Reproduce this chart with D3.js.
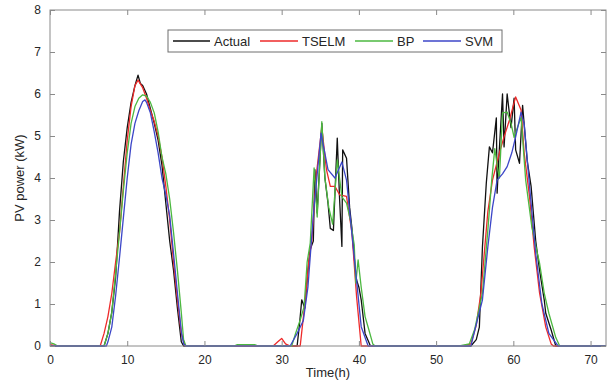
<!DOCTYPE html>
<html>
<head>
<meta charset="utf-8">
<script src="https://cdn.jsdelivr.net/npm/d3@7"></script>
<style>
    body { margin: 0; background: #fff; }
    text { font-family: "Liberation Sans", Arial, sans-serif; fill: #262626; }
</style>
</head>
<body>
<div id="chart"></div>
<script>
// series values, as [time (h), power (kW)]
const actual = [
    [0, 0], [7, 0], [7.5, 0.3], [8, 0.8], [8.5, 1.64], [9, 3.2], [9.5, 4.4], [10, 5.2], [10.5, 5.8],
    [11, 6.2], [11.4, 6.45], [11.7, 6.25], [12, 6.2], [12.5, 6.0], [13, 5.65], [13.5, 5.3],
    [14, 4.9], [14.5, 4.3], [15, 3.4], [15.5, 2.5], [16, 1.8], [16.5, 0.9], [17, 0.1], [17.3, 0],
    [32, 0], [32.3, 0.5], [32.6, 1.1], [33, 0.9], [33.4, 1.8], [33.7, 2.3], [34.1, 2.5], [34.3, 4.2],
    [34.6, 3.17], [35.2, 5.3], [35.6, 4.0], [36, 3.4], [36.3, 2.8], [36.7, 2.75], [37.2, 4.95],
    [37.5, 3.5], [37.8, 2.37], [37.9, 4.67], [38.4, 4.47], [38.8, 3.3], [39.1, 2.8], [39.5, 1.9],
    [39.7, 1.57], [40, 1.4], [40.3, 1.1], [40.8, 0.3], [41.5, 0],
    [54.5, 0], [55.2, 0.15], [55.6, 0.45], [56, 2.36], [56.5, 3.88], [56.9, 4.74], [57.3, 4.6],
    [57.8, 5.43], [57.9, 3.64], [58.1, 4.4], [58.6, 6.0], [58.8, 4.74], [59.2, 6.0], [59.7, 5.2],
    [60.1, 5.9], [60.3, 4.67], [60.8, 4.35], [61.2, 5.73], [61.8, 4.4], [62.3, 3.8], [62.9, 2.5],
    [63.4, 1.8], [64, 1.1], [64.2, 0.78], [64.9, 0.38], [65.5, 0], [72, 0]
];
const tselm = [
    [0, 0.03], [1, 0], [6.5, 0], [7, 0.3], [7.5, 0.7], [8, 1.25], [8.5, 2.0], [9, 2.7], [9.5, 3.8],
    [10, 4.9], [10.5, 5.7], [11, 6.2], [11.4, 6.33], [12, 6.15], [12.5, 5.9], [13, 5.6], [13.5, 5.35],
    [14, 5.0], [14.5, 4.5], [15, 3.8], [15.5, 3.0], [16, 2.0], [16.5, 1.1], [17, 0.3], [17.5, 0],
    [28.9, 0], [29.5, 0.1], [30, 0.18], [30.5, 0.05], [31.1, 0], [32.4, 0], [33.1, 1.17], [33.5, 2.0],
    [33.9, 2.5], [34.5, 4.1], [35.2, 5.2], [35.8, 4.2], [36.3, 3.8], [36.9, 3.8], [37.5, 3.6],
    [38.4, 3.56], [39.1, 2.7], [39.7, 1.18], [40.3, 0],
    [53.5, 0], [54.5, 0.05], [55.2, 0.5], [55.8, 1.26], [56.7, 3.2], [57.3, 3.95], [58.2, 4.6],
    [58.8, 4.98], [59.5, 5.38], [60.3, 5.93], [61, 5.62], [61.4, 4.6], [62.1, 3.55], [62.7, 2.36],
    [63.4, 1.26], [64.2, 0.45], [64.9, 0.05], [65.2, 0], [72, 0]
];
const bp = [
    [0, 0.08], [0.5, 0.05], [1, 0], [7, 0], [7.5, 0.3], [8, 0.8], [8.5, 1.74], [9, 2.7], [9.5, 3.7],
    [10, 4.6], [10.5, 5.3], [11, 5.7], [11.5, 5.9], [12, 5.98], [12.5, 5.95], [13, 5.8], [13.5, 5.55],
    [14, 5.1], [14.5, 4.5], [15, 4.1], [15.5, 3.5], [16, 2.7], [16.5, 1.8], [17, 0.8], [17.3, 0.15],
    [17.6, 0],
    [23.8, 0], [24.2, 0.03], [26.5, 0.03], [27, 0],
    [31.3, 0], [31.8, 0.3], [32.4, 0.62], [32.9, 0.93], [33.3, 2.0], [33.7, 2.45], [34.2, 4.24],
    [34.6, 3.07], [35.2, 5.34], [35.6, 4.0], [36.1, 3.3], [36.6, 2.9], [37.2, 4.43], [37.8, 3.55],
    [38.4, 3.4], [38.9, 3.0], [39.4, 2.4], [39.6, 1.5], [39.9, 2.05], [40.3, 1.4], [40.8, 0.7],
    [41.3, 0.38], [41.8, 0.05], [42.1, 0],
    [53, 0], [54.3, 0.05], [55, 0.4], [56, 1.26], [56.7, 2.76], [57.2, 3.95], [57.6, 4.7], [58, 4.19],
    [58.2, 4.0], [58.6, 5.55], [59.2, 5.57], [59.7, 5.3], [60.1, 4.97], [61, 5.45], [61.6, 3.95],
    [62.4, 2.83], [63, 2.3], [63.4, 1.97], [64, 1.26], [64.6, 0.78], [65.5, 0.2], [66, 0], [72, 0]
];
const svm = [
    [0, 0], [7.3, 0], [7.5, 0.1], [8, 0.45], [8.5, 1.2], [9, 2.1], [9.5, 3.05], [10, 4.0], [10.5, 4.8],
    [11, 5.3], [11.5, 5.6], [12, 5.82], [12.3, 5.86], [12.5, 5.8], [13, 5.55], [13.5, 5.1], [14, 4.6],
    [14.5, 4.0], [15, 3.6], [15.5, 3.1], [16, 2.2], [16.5, 1.26], [17, 0.35], [17.3, 0.05], [17.6, 0],
    [31.1, 0], [32, 0.3], [32.8, 0.6], [33.4, 1.4], [34.1, 3.1], [35.1, 5.07], [36, 4.2], [36.9, 4.0],
    [37.8, 4.38], [38.4, 3.95], [39.3, 2.3], [40.3, 0.46], [41.2, 0],
    [54.5, 0], [56, 1.1], [56.7, 2.36], [57.3, 3.3], [57.9, 3.95], [58.6, 4.1], [59.2, 4.27],
    [59.8, 4.6], [60.3, 4.98], [61, 5.57], [61.4, 5.3], [62.1, 3.8], [62.9, 2.2], [63.7, 1.0],
    [64.6, 0.3], [65.8, 0], [72, 0]
];

const seriesNames = ["Actual", "TSELM", "BP", "SVM"];
const seriesData = [actual, tselm, bp, svm];
const seriesColors = ["#111111", "#ee2a2a", "#4cb840", "#3c46c8"];
const xTicks = [0, 10, 20, 30, 40, 50, 60, 70];
const yTicks = [0, 1, 2, 3, 4, 5, 6, 7, 8];

// dimensions and margins
const canvas = {width: 611, height: 383};
const margin = {top: 10, right: 5, bottom: 37, left: 50};
const width = canvas.width - margin.left - margin.right;
const height = canvas.height - margin.top - margin.bottom;

const svg = d3.select("#chart")
    .append("svg")
    .attr("width", canvas.width)
    .attr("height", canvas.height);

const g = svg.append("g")
    .attr("transform", "translate(" + margin.left + "," + margin.top + ")");

// scales
const xScale = d3.scaleLinear().domain([0, 72]).range([0, width]);
const yScale = d3.scaleLinear().domain([0, 8]).range([height, 0]);

// lines
const line = d3.line()
    .x(d => xScale(d[0]))
    .y(d => yScale(d[1]));

g.selectAll("path.series")
    .data(seriesData)
    .enter()
    .append("path")
    .attr("class", "series")
    .attr("d", line)
    .attr("fill", "none")
    .attr("stroke", (d, i) => seriesColors[i])
    .attr("stroke-width", 1.3)
    .attr("stroke-linejoin", "round");

// axes, matlab style: ticks point inward on all four sides
const axisColor = "#8a8a8a";
function styleAxis(sel, hideText) {
    sel.select(".domain").remove();
    sel.selectAll(".tick line").attr("stroke", axisColor);
    sel.selectAll(".tick text")
        .style("font-size", "12px")
        .attr("fill", "#404040");
    if (hideText) sel.selectAll(".tick text").remove();
}

g.append("g")
    .attr("transform", "translate(0," + height + ")")
    .call(d3.axisBottom(xScale).tickValues(xTicks).tickSizeInner(-5).tickSizeOuter(0).tickPadding(9))
    .call(sel => styleAxis(sel, false));
g.append("g")
    .call(d3.axisTop(xScale).tickValues(xTicks).tickSizeInner(-5).tickSizeOuter(0))
    .call(sel => styleAxis(sel, true));
g.append("g")
    .call(d3.axisLeft(yScale).tickValues(yTicks).tickSizeInner(-5).tickSizeOuter(0).tickPadding(9))
    .call(sel => styleAxis(sel, false));
g.append("g")
    .attr("transform", "translate(" + width + ",0)")
    .call(d3.axisRight(yScale).tickValues(yTicks).tickSizeInner(-5).tickSizeOuter(0))
    .call(sel => styleAxis(sel, true));

// frame
g.append("rect")
    .attr("width", width)
    .attr("height", height)
    .attr("fill", "none")
    .attr("stroke", axisColor)
    .attr("stroke-width", 1);

// axis titles
svg.append("text")
    .attr("x", margin.left + width / 2)
    .attr("y", 377)
    .attr("text-anchor", "middle")
    .style("font-size", "13px")
    .text("Time(h)");
svg.append("text")
    .attr("transform", "translate(24," + (margin.top + height / 2) + ") rotate(-90)")
    .attr("text-anchor", "middle")
    .style("font-size", "13px")
    .text("PV power (kW)");

// legend
const legend = svg.append("g").attr("transform", "translate(168,30)");
legend.append("rect")
    .attr("width", 334)
    .attr("height", 22)
    .attr("fill", "#fff")
    .attr("stroke", "#6e6e6e");
const legendX = [5, 92, 187, 255];
const legendLine = [37, 38, 38, 38];
seriesNames.forEach((name, i) => {
    legend.append("line")
        .attr("x1", legendX[i]).attr("x2", legendX[i] + legendLine[i])
        .attr("y1", 11).attr("y2", 11)
        .attr("stroke", seriesColors[i])
        .attr("stroke-width", 1.3);
    legend.append("text")
        .attr("x", legendX[i] + legendLine[i] + 4)
        .attr("y", 16)
        .style("font-size", "13px")
        .text(name);
});
</script>
</body>
</html>
